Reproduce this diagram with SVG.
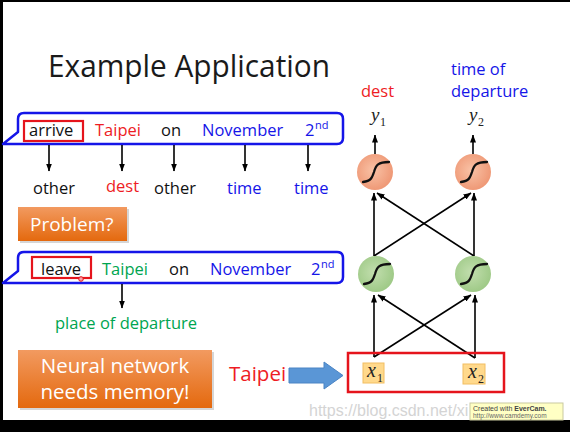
<svg xmlns="http://www.w3.org/2000/svg" width="570" height="432" viewBox="0 0 570 432">
<style>
.t{font-family:"Open Sans","Liberation Sans",sans-serif;font-size:16.5px}
.blk{fill:#111}
.red{fill:#EE1C24}
.blue{fill:#1515E8}
.grn{fill:#00A550}
.wht{fill:#fff}
.bub{fill:#fff;stroke:#1515E8;stroke-width:2.5;stroke-linejoin:round}
.rbox{fill:none;stroke:#E5141C;stroke-width:2.2}
.m{font-family:"Liberation Serif",serif;font-style:italic;fill:#222}
.ms{font-family:"Liberation Serif",serif;fill:#222}
.conn line{stroke:#000;stroke-width:1.6;marker-end:url(#ah)}
.sig{fill:none;stroke:#111;stroke-width:2.3;stroke-linecap:round}
.xb{fill:#FFD98C;stroke:#F2BE62;stroke-width:1}
</style>
<defs>
<marker id="ah" viewBox="0 0 8 6" refX="7.5" refY="3" markerWidth="8" markerHeight="6" markerUnits="userSpaceOnUse" orient="auto">
<path d="M0,0 L8,3 L0,6 Z" fill="#000"/>
</marker>
<linearGradient id="og" x1="0" y1="0" x2="0" y2="1">
<stop offset="0" stop-color="#F29A60"/>
<stop offset="1" stop-color="#E4690E"/>
</linearGradient>
<radialGradient id="oc" cx="0.45" cy="0.45" r="0.6">
<stop offset="0" stop-color="#F9C2A6"/>
<stop offset="1" stop-color="#EE9572"/>
</radialGradient>
<radialGradient id="gc" cx="0.45" cy="0.45" r="0.6">
<stop offset="0" stop-color="#C2DEAE"/>
<stop offset="1" stop-color="#9CC884"/>
</radialGradient>
<path id="sg" class="sig" d="M -12 10 C -4 9 -3 6 -1 0 C 1 -7 3 -10 14 -10"/>
</defs>

<rect x="0" y="0" width="570" height="432" fill="#000"/>
<rect x="3" y="2" width="567" height="418" fill="#fff"/>

<text x="48" y="77" class="t" style="font-size:31px" fill="#1a1a1a" textLength="282" lengthAdjust="spacingAndGlyphs">Example Application</text>

<g id="sentence1">
<path class="bub" d="M24 113 H337 Q343 113 343 119 V138 Q343 144 337 144 H24 L3 144 L18 132 V119 Q18 113 24 113 Z"/>
<rect class="rbox" x="24" y="121" width="59" height="20"/>
<text x="29" y="136" class="t blk">arrive</text>
<text x="95" y="136" class="t red">Taipei</text>
<text x="161" y="136" class="t blk">on</text>
<text x="202" y="136" class="t blue">November</text>
<text x="305" y="136" class="t blue">2</text>
<text x="315" y="129" class="t blue" style="font-size:11px">nd</text>
</g>

<g id="labels1">
<text x="33" y="194" class="t blk">other</text>
<text x="106" y="192" class="t red">dest</text>
<text x="154" y="194" class="t blk">other</text>
<text x="227" y="194" class="t blue">time</text>
<text x="294" y="194" class="t blue">time</text>
</g>

<g id="problem">
<rect x="20" y="209" width="109" height="34" fill="#bbb" opacity="0.6"/>
<rect x="18" y="207" width="109" height="34" fill="url(#og)"/>
<text x="30" y="231" class="t wht" style="font-size:19px">Problem?</text>
</g>

<g id="sentence2">
<path class="bub" d="M24 252 H337 Q343 252 343 258 V277 Q343 283 337 283 H24 L3 283 L18 271 V258 Q18 252 24 252 Z"/>
<rect class="rbox" x="32" y="257" width="59" height="21"/>
<text x="41" y="275" class="t blk">leave</text>
<text x="102" y="275" class="t grn">Taipei</text>
<text x="169" y="275" class="t blk">on</text>
<text x="210" y="275" class="t blue">November</text>
<text x="311" y="275" class="t blue">2</text>
<text x="321" y="268" class="t blue" style="font-size:11px">nd</text>
<circle cx="81" cy="279" r="2.3" fill="#F7A0A8" stroke="#E5141C" stroke-width="1"/>
</g>

<text x="55" y="329" class="t grn">place of departure</text>

<g id="memory">
<rect x="20" y="352" width="194" height="58" fill="#bbb" opacity="0.6"/>
<rect x="18" y="350" width="194" height="58" fill="url(#og)"/>
<text x="115" y="373" class="t wht" style="font-size:20.5px" text-anchor="middle">Neural network</text>
<text x="115" y="399" class="t wht" style="font-size:20.5px" text-anchor="middle">needs memory!</text>
</g>

<text x="229" y="381" class="t red" style="font-size:20.5px">Taipei</text>
<polygon points="289,368 324,368 324,362 343,375.5 324,389 324,383 289,383" fill="#5A96D6" stroke="#4A84C4" stroke-width="1"/>

<g class="conn">
<line x1="49" y1="145" x2="49" y2="171"/>
<line x1="122" y1="145" x2="122" y2="171"/>
<line x1="174" y1="145" x2="174" y2="171"/>
<line x1="245" y1="145" x2="245" y2="171"/>
<line x1="308" y1="145" x2="308" y2="171"/>
<line x1="122" y1="284" x2="122" y2="308"/>
<line x1="375" y1="154" x2="375" y2="135"/>
<line x1="473" y1="154" x2="473" y2="135"/>
<line x1="374" y1="256" x2="374" y2="193"/>
<line x1="374" y1="256" x2="471" y2="193"/>
<line x1="474" y1="256" x2="474" y2="193"/>
<line x1="474" y1="256" x2="377" y2="193"/>
<line x1="374" y1="357" x2="374" y2="295"/>
<line x1="374" y1="357" x2="471" y2="295"/>
<line x1="475" y1="358" x2="475" y2="295"/>
<line x1="475" y1="358" x2="378" y2="295"/>
</g>

<text x="361" y="97" class="t red">dest</text>
<text x="451" y="75" class="t blue">time of</text>
<text x="451" y="97" class="t blue">departure</text>

<g id="y1"><text x="371" y="121" class="m" style="font-size:19px">y</text><text x="380" y="126" class="ms" style="font-size:12px">1</text></g>
<g id="y2"><text x="469" y="121" class="m" style="font-size:19px">y</text><text x="478" y="126" class="ms" style="font-size:12px">2</text></g>

<g id="out1"><circle cx="375" cy="172" r="18" fill="url(#oc)"/><use href="#sg" transform="translate(375 172)"/></g>
<g id="out2"><circle cx="473" cy="172" r="18" fill="url(#oc)"/><use href="#sg" transform="translate(473 172)"/></g>
<g id="hid1"><circle cx="376" cy="274" r="18" fill="url(#gc)"/><use href="#sg" transform="translate(376 274)"/></g>
<g id="hid2"><circle cx="473" cy="274" r="18" fill="url(#gc)"/><use href="#sg" transform="translate(473 274)"/></g>

<rect x="348" y="353" width="156" height="39" fill="none" stroke="#E5141C" stroke-width="2.5"/>
<g id="x1"><rect class="xb" x="363" y="363" width="21" height="20"/><text x="367" y="377" class="m" style="font-size:20px">x</text><text x="377" y="382" class="ms" style="font-size:12px">1</text></g>
<g id="x2"><rect class="xb" x="463" y="364" width="22" height="20"/><text x="468" y="378" class="m" style="font-size:20px">x</text><text x="478" y="383" class="ms" style="font-size:12px">2</text></g>

<text x="309" y="416" font-family="Liberation Sans,sans-serif" font-size="16" fill="#d4d4d4">https://blog.csdn.net/xi</text>
<g id="evercam">
<rect x="470" y="403" width="93" height="17" fill="#FFFFC4" stroke="#C9C9A0" stroke-width="1"/>
<text x="473" y="411" font-family="Liberation Sans,sans-serif" font-size="7" fill="#444">Created with <tspan font-weight="bold">EverCam.</tspan></text>
<text x="473" y="418" font-family="Liberation Sans,sans-serif" font-size="6.5" fill="#666">http://www.camdemy.com</text>
</g>
</svg>
